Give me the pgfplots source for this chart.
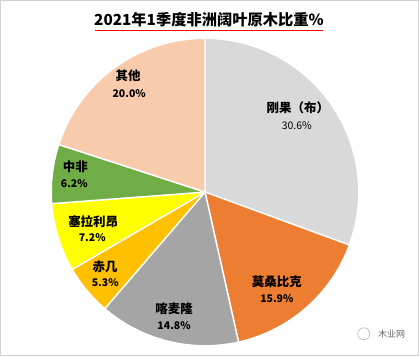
\documentclass[border=0pt]{standalone}
\usepackage{pgfplots}
\pgfplotsset{compat=1.18}
\usepackage{fontspec}
\setmainfont{Noto Sans CJK SC}
\definecolor{cA}{HTML}{D9D9D9}
\definecolor{cB}{HTML}{ED7D31}
\definecolor{cC}{HTML}{A5A5A5}
\definecolor{cD}{HTML}{FFC000}
\definecolor{cE}{HTML}{FFFF00}
\definecolor{cF}{HTML}{70AD47}
\definecolor{cG}{HTML}{F8CBAD}
% slice: start cumulative %, end cumulative %, colour
\newcommand{\slice}[3]{%
  \addplot[fill=#3, draw=white, line width=1.4pt, line join=round, domain=#1:#2, samples=80]
    ({205+154*cos(90-3.6*x)},{192-154*sin(90-3.6*x)}) -- (axis cs:205,192) -- cycle;
}
\begin{document}
\begin{tikzpicture}
\begin{axis}[
  scale only axis, width=419pt, height=356pt,
  xmin=0, xmax=419, ymin=0, ymax=356, y dir=reverse,
  xtick=\empty, ytick=\empty,
  axis line style={draw=gray!35, line width=0.8pt},
  clip=false,
]
% values (%): 30.6, 15.9, 14.8, 5.3, 7.2, 6.2, 20.0
\slice{0}{30.6}{cA}
\slice{30.6}{46.5}{cB}
\slice{46.5}{61.3}{cC}
\slice{61.3}{66.6}{cD}
\slice{66.6}{73.8}{cE}
\slice{73.8}{80.0}{cF}
\slice{80.0}{100}{cG}

\node[font=\bfseries\fontsize{15.3}{17}\selectfont] (t) at (axis cs:209,19) {2021年1季度非洲阔叶原木比重\%};
\draw[red, line width=1.4pt] (axis cs:95,30) -- (axis cs:323,30);

\tikzset{lab/.style={font=\bfseries\fontsize{12.5}{14}\selectfont}, pct/.style={font=\bfseries\fontsize{10.5}{12}\selectfont}}
\node[lab] at (axis cs:298,108) {刚果（布）};
\node[font=\fontsize{10.5}{12}\selectfont] at (axis cs:297,125) {30.6\%};
\node[lab] at (axis cs:277,282) {莫桑比克};
\node[pct] at (axis cs:277,299) {15.9\%};
\node[lab] at (axis cs:174,309) {喀麦隆};
\node[pct] at (axis cs:174,326) {14.8\%};
\node[lab] at (axis cs:105,267) {赤几};
\node[pct] at (axis cs:105,283) {5.3\%};
\node[lab] at (axis cs:93,222) {塞拉利昂};
\node[pct] at (axis cs:92,238) {7.2\%};
\node[lab] at (axis cs:75,167) {中非};
\node[pct] at (axis cs:74,184) {6.2\%};
\node[lab] at (axis cs:128,76) {其他};
\node[pct] at (axis cs:129,93) {20.0\%};

\draw[gray!60, line width=0.6pt] (axis cs:364,334) circle (6pt);
\node[gray!80!black, font=\fontsize{9}{10}\selectfont] at (axis cs:392,334) {木业网};
\end{axis}
\end{tikzpicture}
\end{document}
